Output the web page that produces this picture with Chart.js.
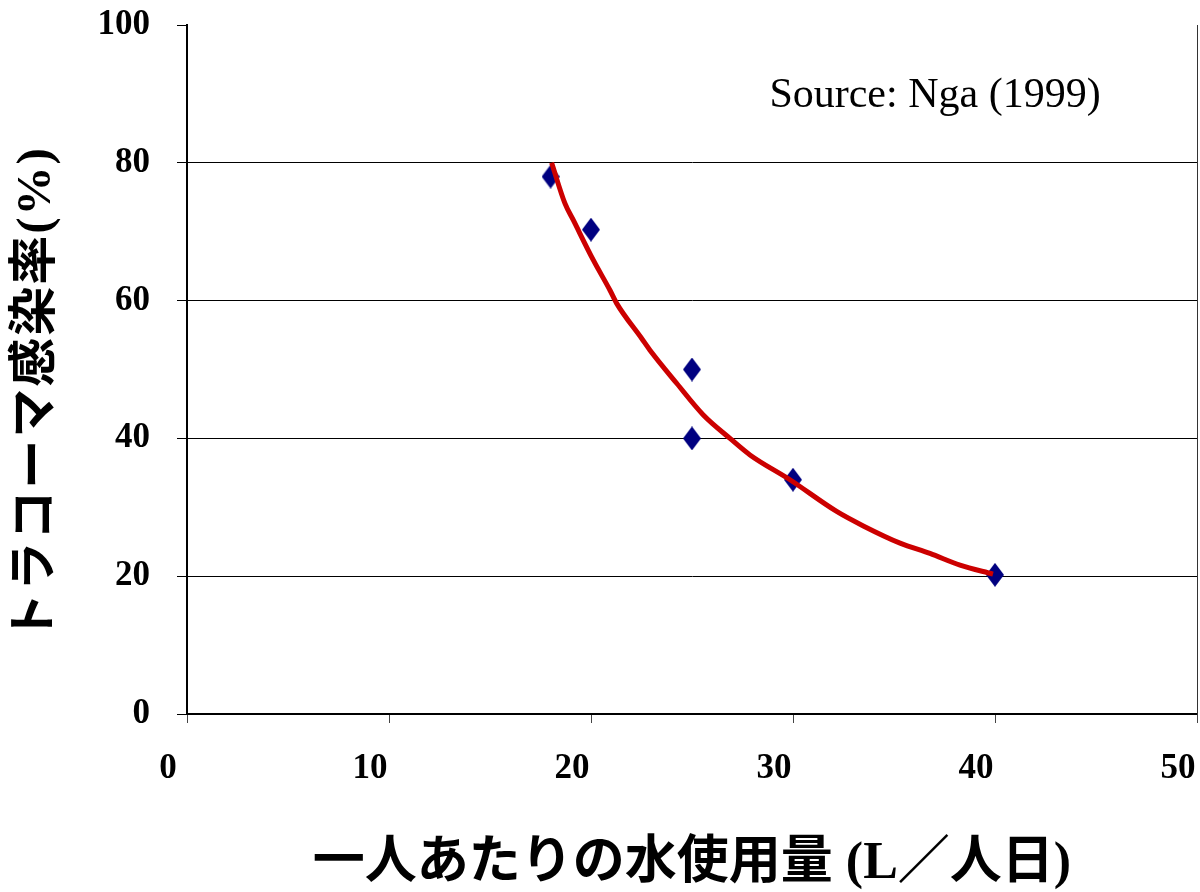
<!DOCTYPE html>
<html>
<head>
<meta charset="utf-8">
<script src="https://cdn.jsdelivr.net/npm/chart.js@4"></script>
<style>
  html, body { margin: 0; padding: 0; background: #fff; }
  #wrap { width: 1200px; height: 892px; }
</style>
</head>
<body>
<div id="wrap"><canvas id="chart" width="1200" height="892"></canvas></div>
<script>
// ── data ──
const pointX = [18, 20, 25, 25, 30, 40];
const pointY = [78, 70.3, 50, 40, 34, 20.2];

const trendX = [18.05, 18.71, 19.12, 20.11, 20.94, 21.27, 22.51, 22.92, 24.24, 25.56, 26.88, 27.87, 29.85, 32.16, 33.48, 35.3, 36.78, 38.27, 39.9];
const trendY = [80.0, 74.1, 71.7, 65.9, 61.5, 59.6, 54.5, 52.8, 48.0, 43.4, 40.0, 37.6, 34.0, 29.4, 27.3, 24.8, 23.3, 21.6, 20.3];

const xTicks = [0, 10, 20, 30, 40, 50];
const yTicks = [0, 20, 40, 60, 80, 100];

const xTitle = '一人あたりの水使用量 (L／人日)';
const yTitle = 'トラコーマ感染率(%)';
const sourceNote = 'Source: Nga (1999)';

const mixFont = "'Liberation Serif', 'Noto Sans CJK JP', serif";

// diamond marker, a bit taller than wide like the original
const diamond = document.createElement('canvas');
diamond.width = 18;
diamond.height = 24;
(() => {
  const c = diamond.getContext('2d');
  c.fillStyle = '#000080';
  c.beginPath();
  c.moveTo(9, 0);
  c.lineTo(18, 12);
  c.lineTo(9, 24);
  c.lineTo(0, 12);
  c.closePath();
  c.fill();
})();

// ── y title and source note, drawn on top ──
const extraText = {
  id: 'extraText',
  afterDraw(chart) {
    const ctx = chart.ctx;
    ctx.save();
    ctx.fillStyle = '#000';
    ctx.font = "42px 'Liberation Serif', serif";
    ctx.textAlign = 'center';
    ctx.textBaseline = 'alphabetic';
    ctx.fillText(sourceNote, 935, 107);

    ctx.translate(37, 394);
    ctx.rotate(-Math.PI / 2);
    ctx.font = 'bold 49px ' + mixFont;
    ctx.letterSpacing = '2px';
    ctx.textBaseline = 'middle';
    ctx.fillText(yTitle, 0, 0);
    ctx.restore();
  }
};

new Chart(document.getElementById('chart'), {
  type: 'scatter',
  data: {
    datasets: [
      {
        type: 'line',
        data: trendX.map((x, i) => ({ x, y: trendY[i] })),
        borderColor: 'rgb(204,0,0)',
        borderWidth: 5,
        pointRadius: 0,
        cubicInterpolationMode: 'monotone',
        fill: false
      },
      {
        data: pointX.map((x, i) => ({ x, y: pointY[i] })),
        pointStyle: diamond,
        pointRadius: 10
      }
    ]
  },
  options: {
    responsive: false,
    animation: false,
    layout: { autoPadding: false, padding: { top: 25, right: 3, left: 0, bottom: 0 } },
    plugins: {
      legend: { display: false },
      tooltip: { enabled: false }
    },
    scales: {
      x: {
        type: 'linear',
        min: 0,
        max: 50,
        afterBuildTicks: s => { s.ticks = xTicks.map(v => ({ value: v })); },
        afterFit: s => { s.height = 178; s.paddingLeft = 0; s.paddingRight = 0; },
        ticks: {
          color: '#000',
          font: { family: "'Liberation Serif', serif", size: 35, weight: 'bold' },
          padding: 25,
          labelOffset: -19,
          maxRotation: 0
        },
        grid: {
          drawOnChartArea: false,
          drawTicks: true,
          tickLength: 9,
          tickColor: '#444',
          tickWidth: 1
        },
        border: { color: '#000', width: 2 },
        title: {
          display: true,
          text: xTitle,
          color: '#000',
          font: { family: mixFont, size: 52, weight: 'bold', lineHeight: 1 },
          padding: { top: 0, bottom: 1 }
        }
      },
      y: {
        type: 'linear',
        min: 0,
        max: 100,
        afterBuildTicks: s => { s.ticks = yTicks.map(v => ({ value: v })); },
        afterFit: s => { s.width = 187; s.paddingTop = 0; s.paddingBottom = 0; },
        ticks: {
          color: '#000',
          font: { family: "'Liberation Serif', serif", size: 35, weight: 'bold' },
          padding: 27
        },
        grid: {
          color: c => (c.tick && (c.tick.value === 100 || c.tick.value === 0)) ? 'rgba(0,0,0,0)' : '#000',
          lineWidth: 1,
          tickLength: 10,
          tickColor: '#000',
          tickWidth: 1
        },
        border: { color: '#000', width: 2 }
      },
      y2: {
        type: 'linear',
        position: 'right',
        min: 0,
        max: 100,
        afterFit: s => { s.width = 0; s.paddingTop = 0; s.paddingBottom = 0; },
        ticks: { display: false },
        grid: { drawOnChartArea: false, drawTicks: false },
        border: { color: '#333', width: 1 }
      }
    }
  },
  plugins: [extraText]
});
</script>
</body>
</html>
